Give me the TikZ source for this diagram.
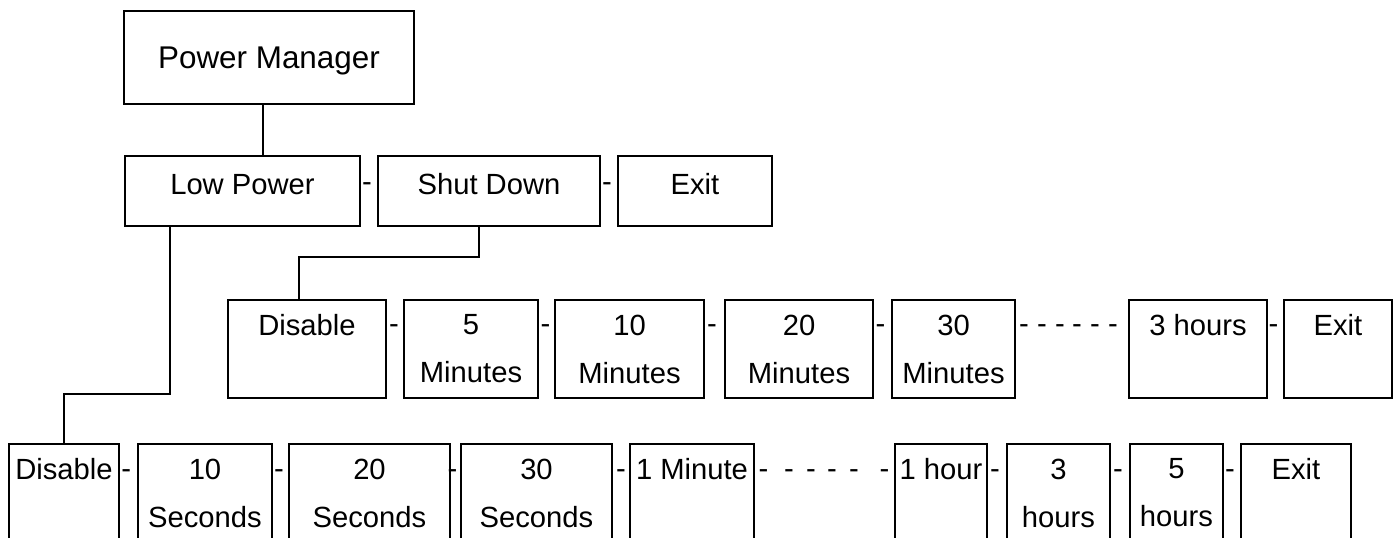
\documentclass[tikz,border=0pt]{standalone}
\usepackage{fontspec}
\setmainfont{Liberation Sans}
\usetikzlibrary{positioning}
\tikzset{
  menubox/.style={rectangle,draw=black,line width=1pt,inner sep=0pt,anchor=north west,align=center,font=\fontsize{14.6}{24}\selectfont},
  topbox/.style={menubox,minimum height=35pt,text depth=7pt},
  rowbox/.style={menubox,minimum height=49pt},
  sepdash/.style={inner sep=0pt,anchor=base,font=\fontsize{14.6}{24}\selectfont},
  link/.style={line width=1pt}
}

\begin{document}
\begin{tikzpicture}[x=0.5pt,y=-0.5pt]
  \useasboundingbox (0,0) rectangle (1399,537);
  \clip (0,0) rectangle (1399,537);

  % main menu
  \node[menubox,minimum width=145pt,minimum height=46.5pt,text depth=0pt,
        font=\fontsize{15.7}{18}\selectfont] (pm) at (123,10) {Power Manager};
  \node[topbox,minimum width=117.5pt] (low) at (124,155) {Low Power};
  \node[topbox,minimum width=111pt] (shut) at (377,155) {Shut Down};
  \node[topbox,minimum width=77pt] (exitA) at (617,155) {Exit};

  % shut down timeouts
  \node[rowbox,minimum width=79pt] (sd0) at (227,299) {Disable\\\mbox{}};
  \node[rowbox,minimum width=67pt] (sd5) at (403,299) {5\\Minutes};
  \node[rowbox,minimum width=74.5pt] (sd10) at (554,299) {10\\Minutes};
  \node[rowbox,minimum width=74pt] (sd20) at (724,299) {20\\Minutes};
  \node[rowbox,minimum width=61.5pt] (sd30) at (891,299) {30\\Minutes};
  \node[rowbox,minimum width=69pt] (sd3h) at (1128,299) {3 hours\\\mbox{}};
  \node[rowbox,minimum width=54pt] (sdexit) at (1283,299) {Exit\\\mbox{}};

  % low power timeouts
  \node[rowbox,minimum width=55pt] (lp0) at (8,443) {Disable\\\mbox{}};
  \node[rowbox,minimum width=67pt] (lp10s) at (137,443) {10\\Seconds};
  \node[rowbox,minimum width=80.5pt] (lp20s) at (288,443) {20\\Seconds};
  \node[rowbox,minimum width=75.5pt] (lp30s) at (460,443) {30\\Seconds};
  \node[rowbox,minimum width=62pt] (lp1m) at (629,443) {1 Minute\\\mbox{}};
  \node[rowbox,minimum width=46pt] (lp1h) at (894,443) {1 hour\\\mbox{}};
  \node[rowbox,minimum width=51.5pt] (lp3h) at (1006,443) {3\\hours};
  \node[rowbox,minimum width=46.5pt] (lp5h) at (1129,443) {5\\hours};
  \node[rowbox,minimum width=55pt] (lpexit) at (1240,443) {Exit\\\mbox{}};

  % separators
  \foreach \x [count=\i] in {367,607}
    \node[sepdash] (ta\i) at (\x,191) {-};
  \foreach \x [count=\i] in {394,545.5,712,880.5,1024,1042,1060,1077,1095,1113,1273.5}
    \node[sepdash] (tb\i) at (\x,333) {-};
  \foreach \x [count=\i] in {126.3,279,452.5,621,763.5,789,811,832,854,884.5,995,1118,1230}
    \node[sepdash] (tc\i) at (\x,478) {-};

  % tree links
  \draw[link] ([xshift=-3pt]pm.south) -- ([xshift=-3pt]pm.south |- low.north);
  \draw[link] ([xshift=23pt]low.south west) |- ([yshift=24.5pt]lp0.north) -- (lp0.north);
  \draw[link] ([xshift=-5pt]shut.south) |- ([xshift=-4pt,yshift=21pt]sd0.north)
              -- ([xshift=-4pt]sd0.north);
\end{tikzpicture}
\end{document}
